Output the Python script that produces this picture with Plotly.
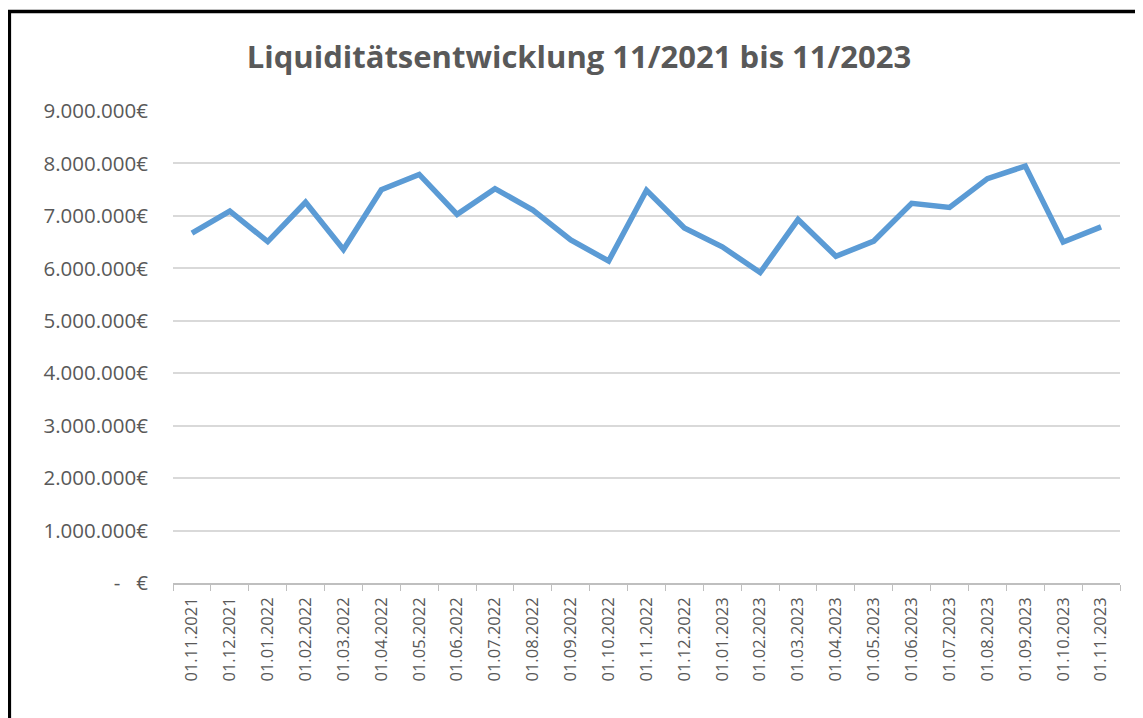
import plotly.graph_objects as go

dates = ["01.11.2021", "01.12.2021", "01.01.2022", "01.02.2022", "01.03.2022", "01.04.2022",
         "01.05.2022", "01.06.2022", "01.07.2022", "01.08.2022", "01.09.2022", "01.10.2022",
         "01.11.2022", "01.12.2022", "01.01.2023", "01.02.2023", "01.03.2023", "01.04.2023",
         "01.05.2023", "01.06.2023", "01.07.2023", "01.08.2023", "01.09.2023", "01.10.2023",
         "01.11.2023"]
liquiditaet = [6670000, 7090000, 6510000, 7260000, 6360000, 7500000, 7790000, 7030000,
               7520000, 7110000, 6540000, 6140000, 7490000, 6770000, 6410000, 5920000,
               6930000, 6230000, 6520000, 7240000, 7160000, 7710000, 7950000, 6500000,
               6790000]
y_tickvals = [0, 1000000, 2000000, 3000000, 4000000, 5000000, 6000000, 7000000, 8000000, 9000000]
y_ticktext = ["-   €", "1.000.000€", "2.000.000€", "3.000.000€", "4.000.000€", "5.000.000€",
              "6.000.000€", "7.000.000€", "8.000.000€", "9.000.000€"]

gray = "#595959"
font_family = "'Open Sans', Lato, sans-serif"

# page body has an 8px margin, so the figure is sized to fit the window
W, H = 1135, 710

fig = go.Figure()
fig.add_trace(go.Scatter(
    x=dates, y=liquiditaet, mode="lines",
    line=dict(color="#5B9BD5", width=5.5),
    hoverinfo="x+y",
))

fig.update_layout(
    width=W, height=H,
    margin=dict(l=165, r=23, t=103, b=135),
    paper_bgcolor="white", plot_bgcolor="white",
    showlegend=False,
    title=dict(text="<b>Liquiditätsentwicklung 11/2021 bis 11/2023</b>",
               x=(579 - 8) / W, xref="container", xanchor="center",
               y=1 - (57 - 8) / H, yref="container", yanchor="middle",
               font=dict(family=font_family, size=31, color=gray)),
    font=dict(family=font_family, color=gray),
)

fig.update_xaxes(
    type="category", tickson="boundaries", range=[-0.5, len(dates) - 0.5],
    showgrid=False, showline=True, linecolor="#BFBFBF", linewidth=1.5,
    ticks="outside", ticklen=6, tickcolor="#BFBFBF",
    tickangle=-90, tickfont=dict(size=16.5, color=gray, family=font_family),
    ticklabelstandoff=6,
)
fig.update_yaxes(
    range=[0, 9000000], tickvals=y_tickvals, ticktext=y_ticktext,
    showgrid=True, gridcolor="#D9D9D9", gridwidth=1.5,
    showline=False, zeroline=False, ticks="",
    tickfont=dict(size=20.5, color=gray, family=font_family), ticklabelstandoff=24,
)

fig.add_shape(type="rect", xref="paper", yref="paper",
              x0=-0.1728, x1=1.1, y0=-0.4, y1=1.2108,
              line=dict(color="black", width=3.5), fillcolor="rgba(0,0,0,0)", layer="above")

fig.write_html("out.html")
